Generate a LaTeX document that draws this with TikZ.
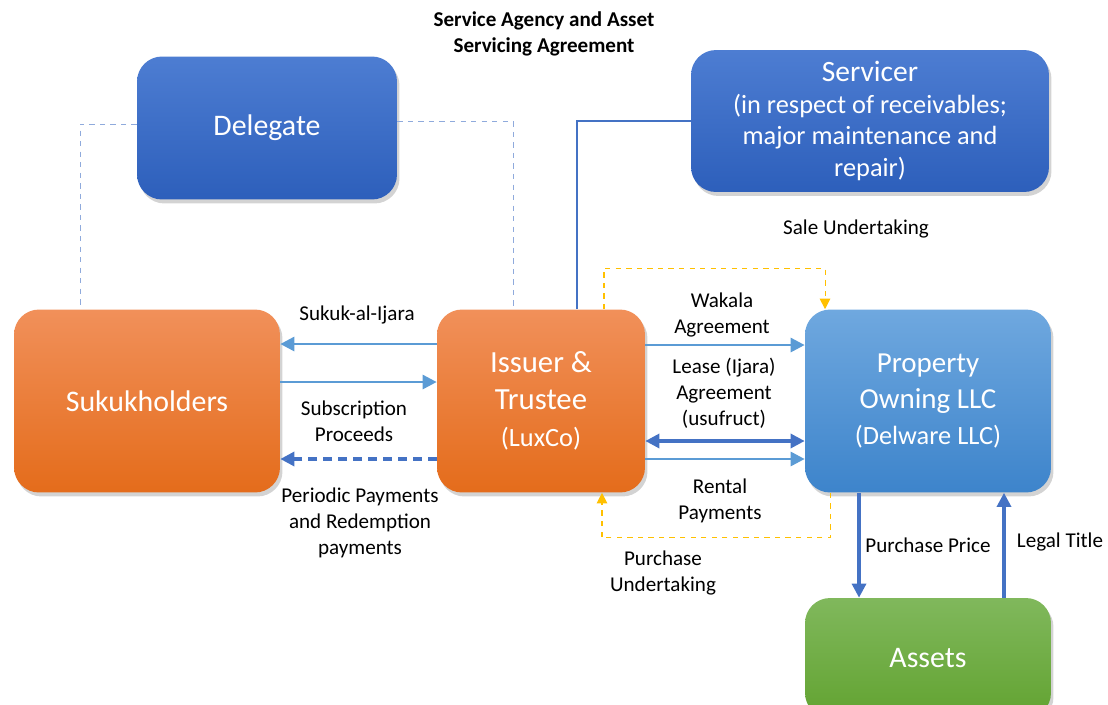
\documentclass[tikz,border=0pt]{standalone}
\usepackage{fontspec}
\setmainfont{Carlito}
\usetikzlibrary{shadows,arrows.meta}

\definecolor{orangetop}{HTML}{F1905A}
\definecolor{orangebot}{HTML}{E46C1B}
\definecolor{navytop}{HTML}{4D7DD2}
\definecolor{navybot}{HTML}{2D5FBB}
\definecolor{skytop}{HTML}{6FA8DF}
\definecolor{skybot}{HTML}{3D84CB}
\definecolor{greentop}{HTML}{80B85C}
\definecolor{greenbot}{HTML}{62A331}
\definecolor{flowblue}{HTML}{5B9BD5}
\definecolor{darkflow}{HTML}{4472C4}
\definecolor{gold}{HTML}{FFC000}
\definecolor{paleblue}{HTML}{8FAADC}

\newcommand{\subline}[1]{{\fontsize{15}{18}\selectfont #1}}

\begin{document}
\begin{tikzpicture}[x=0.02cm, y=-0.02cm,
  box/.style={rounded corners=0.5cm, text=white, align=center, inner sep=0pt,
    drop shadow={opacity=0.35, shadow xshift=0.05cm, shadow yshift=-0.08cm}},
  party/.style={box, top color=orangetop, bottom color=orangebot},
  agent/.style={box, top color=navytop, bottom color=navybot},
  propco/.style={box, top color=skytop, bottom color=skybot},
  asset/.style={box, top color=greentop, bottom color=greenbot},
  flow/.style={flowblue, line width=1.6pt, -{Triangle[length=8pt,width=8pt]}},
  payflow/.style={darkflow, line width=1.8pt, -{Triangle[length=8pt,width=8pt]}},
  undertaking/.style={gold, line width=0.6pt, dashed, -{Triangle[length=6pt,width=6pt]}},
  link/.style={paleblue, line width=0.5pt, dashed},
  lbl/.style={align=center, font=\fontsize{12}{14.7}\selectfont}]
  \useasboundingbox (0,0) rectangle (1108,704);

  % boxes
  \node [agent, minimum width=5.2cm, minimum height=2.86cm, font=\fontsize{17}{20}\selectfont] (del) at (267,128) {Delegate};
  \node [agent, minimum width=7.16cm, minimum height=2.84cm, font=\fontsize{15}{18.1}\selectfont] (srv) at (870,121)
    {{\fontsize{16.8}{18.1}\selectfont Servicer}\\(in respect of receivables;\\major maintenance and\\repair)};
  \node [party, minimum width=5.32cm, minimum height=3.66cm, font=\fontsize{17}{20}\selectfont] (suk) at (147,401) {Sukukholders};
  \node [party, minimum width=4.16cm, minimum height=3.66cm, font=\fontsize{17.5}{21}\selectfont] (iss) at (541,401)
    {Issuer \&\\Trustee\\\subline{(LuxCo)}};
  \node [propco, minimum width=4.92cm, minimum height=3.66cm, font=\fontsize{16.5}{20.4}\selectfont] (prop) at (928,401)
    {Property\\Owning LLC\\\subline{(Delware LLC)}};
  \node [asset, minimum width=4.92cm, minimum height=2.4cm, font=\fontsize{17}{20}\selectfont] (ast) at (928,658) {Assets};

  \node [lbl, font=\fontsize{12}{14.7}\selectfont\bfseries] (sasa) at (544,34) {Service Agency and Asset\\Servicing Agreement};

  % delegate and servicer links
  \draw [link] ([yshift=0.08cm]del.west) -| ([xshift=-1.34cm]suk.north);
  \draw [link] ([yshift=0.14cm]del.east) -| ([xshift=-0.56cm]iss.north);
  \draw [darkflow, line width=0.6pt] (srv.west) -| ([xshift=0.72cm]iss.north);

  % sukukholders <-> issuer
  \draw [flow] ([yshift=1.14cm]iss.west) -- ([yshift=1.14cm]suk.east);
  \draw [flow] ([yshift=0.38cm]suk.east) -- ([yshift=0.38cm]iss.west);
  \draw [payflow, dash pattern=on 5pt off 3.5pt] ([yshift=-1.16cm]iss.west) -- ([yshift=-1.16cm]suk.east);
  \node [lbl] (ijara) at (357,315) {Sukuk-al-Ijara};
  \node [lbl] (subs) at (354,421) {Subscription\\Proceeds};
  \node [lbl] (periodic) at (360,523) {Periodic Payments\\and Redemption\\payments};

  % issuer <-> property
  \draw [flow] ([yshift=1.12cm]iss.east) -- ([yshift=1.12cm]prop.west);
  \draw [payflow, {Triangle[length=8pt,width=8pt]}-{Triangle[length=8pt,width=8pt]}]
    ([yshift=-0.8cm]iss.east) -- ([yshift=-0.8cm]prop.west);
  \draw [flow] ([yshift=-1.16cm]iss.east) -- ([yshift=-1.16cm]prop.west);
  \node [lbl] (wakala) at (722,315) {Wakala\\Agreement};
  \node [lbl] (lease) at (724,393) {Lease (Ijara)\\Agreement\\(usufruct)};
  \node [lbl] (rental) at (720,501) {Rental\\Payments};

  % undertakings
  \draw [undertaking] ([xshift=1.26cm]iss.north) -- ++(0cm,0.82cm) -| ([xshift=-2.06cm]prop.north);
  \draw [undertaking] ([xshift=-1.96cm]prop.south) -- ++(0cm,-0.9cm) -| ([xshift=1.22cm]iss.south);
  \node [lbl] (sale) at (856,229) {Sale Undertaking};
  \node [lbl] (purch) at (663,573) {Purchase\\Undertaking};

  % property <-> assets
  \draw [payflow] ([xshift=-1.38cm]prop.south) -- ([xshift=-1.38cm]ast.north);
  \draw [payflow] ([xshift=1.52cm]ast.north) -- ([xshift=1.52cm]prop.south);
  \node [lbl] (price) at (928,545) {Purchase Price};
  \node [lbl] (title) at (1060,542) {Legal Title};
\end{tikzpicture}
\end{document}
